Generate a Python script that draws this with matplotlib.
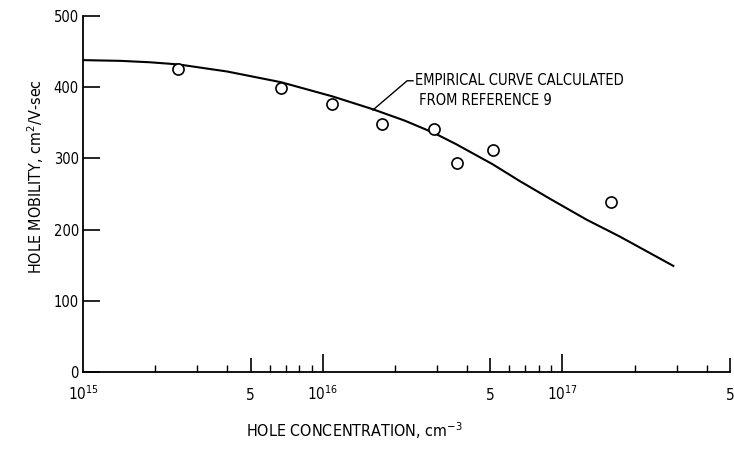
import matplotlib
matplotlib.use("Agg")
import matplotlib.pyplot as plt
from matplotlib.ticker import FixedLocator, NullFormatter

plt.rcParams['font.family'] = ['DejaVu Sans']
plt.rcParams['font.stretch'] = 'condensed'
plt.rcParams['mathtext.fontset'] = 'custom'
plt.rcParams['mathtext.rm'] = 'DejaVu Sans:stretch=condensed'
plt.rcParams['mathtext.it'] = 'DejaVu Sans:stretch=condensed'

# measured points (hole concentration cm^-3, hole mobility cm^2/V-sec)
conc_meas = [2.50e15, 6.70e15, 1.09e16, 1.76e16, 2.91e16, 3.62e16, 5.15e16, 1.59e17]
mob_meas = [426, 399, 377, 349, 341, 293, 312, 239]

# empirical curve from reference 9
conc_curve = [1.0e15, 1.43e15, 1.9e15, 2.5e15, 4.0e15, 6.7e15, 1.1e16, 1.62e16, 2.2e16,
              2.9e16, 3.6e16, 5.1e16, 6.65e16, 8.9e16, 1.26e17, 1.74e17, 2.9e17]
mob_curve = [438, 437, 435, 432, 422, 407, 387, 369, 353, 336, 320, 292, 268, 243,
             214, 190, 149]

xtick_vals = [1e15, 5e15, 1e16, 5e16, 1e17, 5e17]
xtick_labels = ['$10^{15}$', '5', '$10^{16}$', '5', '$10^{17}$', '5']
xtick_len = [0, 10, 13, 10, 13, 10]
xminor_vals = [m * d for d in (1e15, 1e16, 1e17) for m in (2, 3, 4, 6, 7, 8, 9)
               if m * d < 5e17]
ytick_vals = [0, 100, 200, 300, 400, 500]

fig = plt.figure(figsize=(7.34, 4.49), dpi=100)
ax = fig.add_axes([0.113, 0.1715, 0.8816, 0.7929])

ax.plot(conc_curve, mob_curve, color='black', lw=1.5, zorder=2)
ax.plot(conc_meas, mob_meas, 'o', mfc='white', mec='black', ms=8, mew=1.2, zorder=3)

ax.set_xscale('log')
ax.set_xlim(1e15, 5e17)
ax.set_ylim(0, 500)

for s in ('top', 'right'):
    ax.spines[s].set_visible(False)
for s in ('left', 'bottom'):
    ax.spines[s].set_linewidth(1.3)

ax.xaxis.set_major_locator(FixedLocator(xtick_vals))
ax.set_xticklabels(xtick_labels)
ax.xaxis.set_minor_locator(FixedLocator(xminor_vals))
ax.xaxis.set_minor_formatter(NullFormatter())
ax.tick_params(axis='x', which='major', direction='in', width=1.2, pad=20, labelsize=11)
ax.tick_params(axis='x', which='minor', direction='in', length=5, width=1.0)
for t, ln in zip(ax.xaxis.get_major_ticks(), xtick_len):
    t.tick1line.set_markersize(ln)
for lbl in ax.get_xticklabels():
    lbl.set_va('baseline')

ax.set_yticks(ytick_vals)
ax.set_yticklabels([str(v) for v in ytick_vals])
ax.tick_params(axis='y', which='major', direction='in', length=12, width=1.2, pad=3,
               labelsize=10.5)

ax.set_xlabel('HOLE CONCENTRATION, cm$^{-3}$', fontsize=11.5)
ax.xaxis.set_label_coords(0.419, -0.137)
ax.set_ylabel('HOLE MOBILITY, cm$^{2}$/V-sec', fontsize=11.5)
ax.yaxis.set_label_coords(-0.057, 0.548)

# leader line and note
ax.plot([1.62e16, 2.25e16, 2.38e16], [368, 409, 409], color='black', lw=1.0)
ax.text(2.43e16, 395, 'EMPIRICAL CURVE CALCULATED\n FROM REFERENCE 9', fontsize=10.5,
        va='center', ha='left', linespacing=1.45)

fig.savefig('out.png', dpi=100)
